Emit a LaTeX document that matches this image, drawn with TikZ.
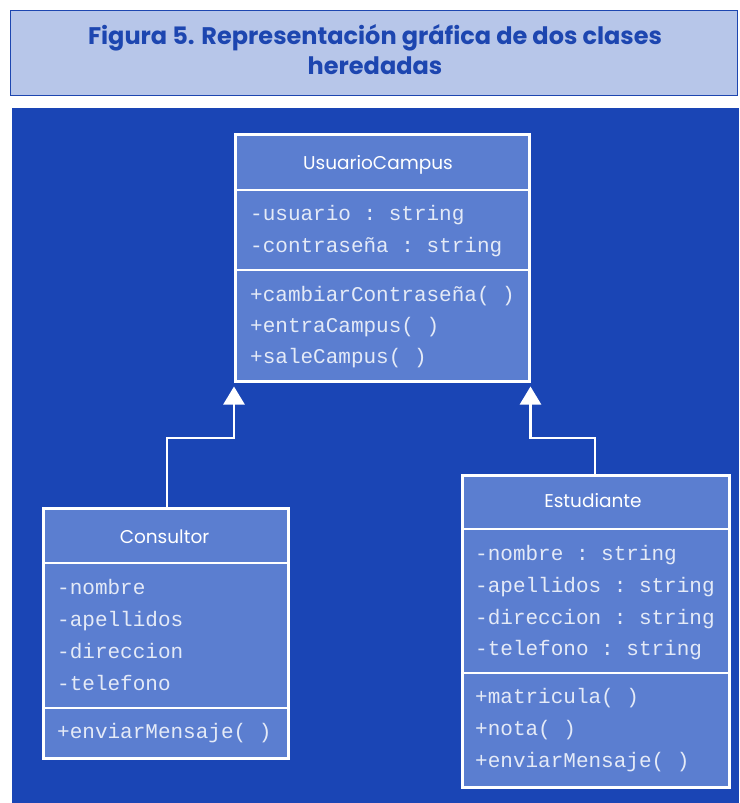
\documentclass[tikz,border=0pt]{standalone}
\usepackage{fontspec}
\setmainfont{Poppins}
\setmonofont{Liberation Mono}
\usetikzlibrary{arrows.meta}
\definecolor{bgblue}{HTML}{1A45B5}
\definecolor{boxfill}{HTML}{5B7ED0}
\definecolor{headfill}{HTML}{B7C6E9}
\definecolor{headtext}{HTML}{1D46B0}
\definecolor{membertext}{HTML}{E4EAF7}
\tikzset{
  classbox/.style={draw=white, line width=2.5pt, fill=boxfill, inner sep=0pt, anchor=north west},
  divider/.style={draw=white, line width=2.5pt},
  classtitle/.style={anchor=base, text=white, inner sep=0pt, font=\fontsize{18.5}{20}\selectfont},
  member/.style={anchor=base west, text=membertext, inner sep=0pt, font=\ttfamily\fontsize{21}{24}\selectfont},
  inherit/.style={draw=white, line width=2.5pt, -{Triangle[width=21pt,length=18pt,fill=white]}, shorten >=4pt}
}
\begin{document}
\begin{tikzpicture}[x=1pt,y=-1pt]
\useasboundingbox (0,0) rectangle (739,803);
% header
\node[draw=headtext, line width=1.2pt, fill=headfill, minimum width=727pt, minimum height=85pt, anchor=north west, inner sep=0pt] (head) at (10,10) {};
\node[font=\bfseries\fontsize{24}{30}\selectfont, text=headtext, align=center, inner sep=0pt] (headtxt) at (375,50) {Figura 5. Representación gráfica de dos clases\\heredadas};
% background
\fill[bgblue] (12,108) rectangle (739,803);
% UsuarioCampus
\node[classbox, minimum width=294pt, minimum height=247pt] (uc) at (234,133) {};
\coordinate (uc1l) at (234,190); \coordinate (uc1r) at (528,190);
\coordinate (uc2l) at (234,270); \coordinate (uc2r) at (528,270);
\draw[divider] (uc1l) -- (uc1r);
\draw[divider] (uc2l) -- (uc2r);
\node[classtitle] (uct) at (378,169) {UsuarioCampus};
\node[member] (uca1) at (250,220) {-usuario : string};
\node[member] (uca2) at (250,252) {-contraseña : string};
\node[member] (ucm1) at (250,301) {+cambiarContraseña( )};
\node[member] (ucm2) at (250,332) {+entraCampus( )};
\node[member] (ucm3) at (250,363) {+saleCampus( )};
% Consultor
\node[classbox, minimum width=245pt, minimum height=250pt] (co) at (42,507) {};
\coordinate (co1l) at (42,563); \coordinate (co1r) at (287,563);
\coordinate (co2l) at (42,708); \coordinate (co2r) at (287,708);
\draw[divider] (co1l) -- (co1r);
\draw[divider] (co2l) -- (co2r);
\node[classtitle] (cot) at (164.5,543) {Consultor};
\node[member] (coa1) at (57,594) {-nombre};
\node[member] (coa2) at (57,626) {-apellidos};
\node[member] (coa3) at (57,658) {-direccion};
\node[member] (coa4) at (57,690) {-telefono};
\node[member] (com1) at (57,738) {+enviarMensaje( )};
% Estudiante
\node[classbox, minimum width=267pt, minimum height=312pt] (es) at (461,474) {};
\coordinate (es1l) at (461,529); \coordinate (es1r) at (728,529);
\coordinate (es2l) at (461,673); \coordinate (es2r) at (728,673);
\draw[divider] (es1l) -- (es1r);
\draw[divider] (es2l) -- (es2r);
\node[classtitle] (est) at (593,507) {Estudiante};
\node[member] (esa1) at (475,560) {-nombre : string};
\node[member] (esa2) at (475,592) {-apellidos : string};
\node[member] (esa3) at (475,624) {-direccion : string};
\node[member] (esa4) at (475,655) {-telefono : string};
\node[member] (esm1) at (475,703) {+matricula( )};
\node[member] (esm2) at (475,735) {+nota( )};
\node[member] (esm3) at (475,767) {+enviarMensaje( )};
% inheritance
\coordinate (cojoin) at (167,507);
\coordinate (esjoin) at (595,474);
\draw[inherit] (cojoin) -- ++(0,-69) -| (uc.south west);
\draw[inherit] (esjoin) -- ++(0,-36) -| (uc.south east);
\end{tikzpicture}
\end{document}
